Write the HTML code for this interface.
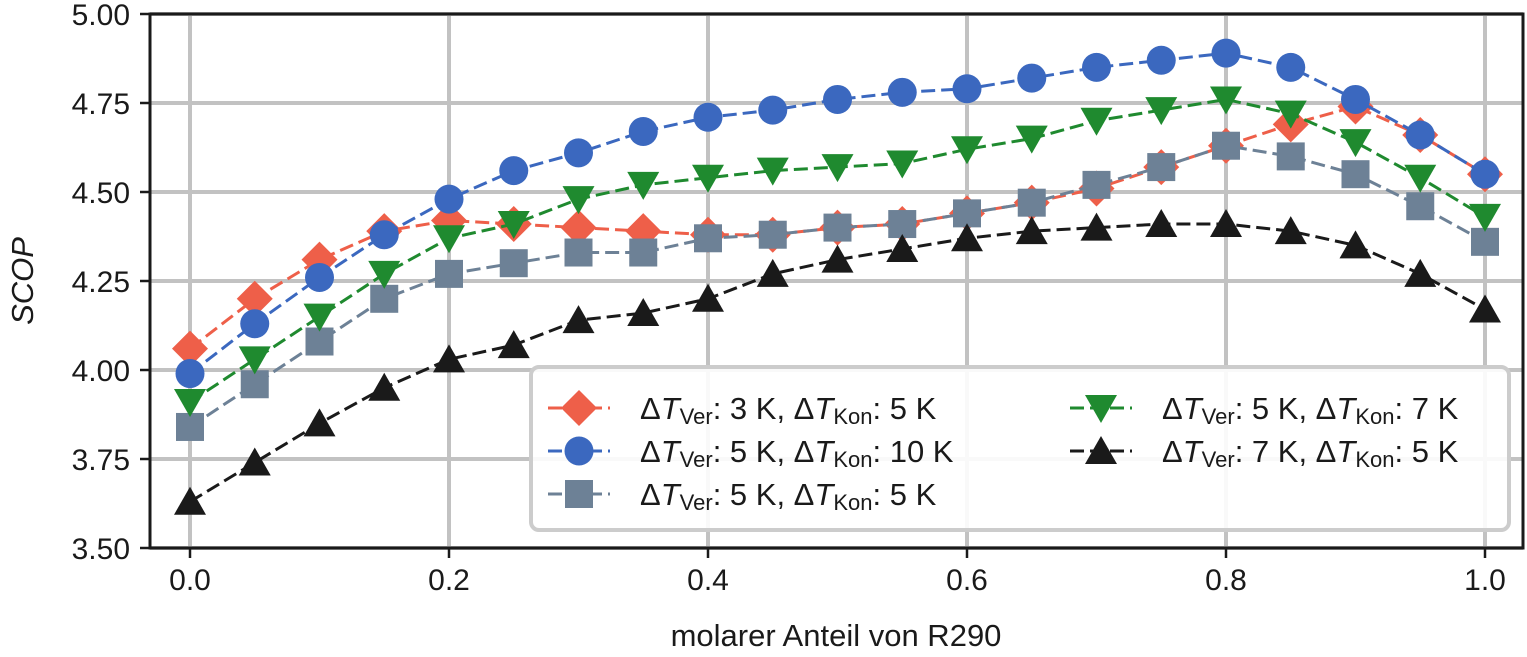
<!DOCTYPE html>
<html><head><meta charset="utf-8"><style>
body{margin:0;background:#fff;}
svg text{font-family:"Liberation Sans","DejaVu Sans",sans-serif;fill:#1a1a1a;}
</style></head><body>
<svg id="chart" width="1527" height="652" xmlns="http://www.w3.org/2000/svg">
<g id="grid"></g>
<g id="series"></g>
<rect x="150" y="14" width="1373" height="534" fill="none" stroke="#1a1a1a" stroke-width="3"/>
<g id="ticks"></g>
<text x="836" y="646" font-size="31" text-anchor="middle">molarer Anteil von R290</text>
<text transform="translate(33,281) rotate(-90)" font-size="31" font-style="italic" text-anchor="middle">SCOP</text>
<g id="legend"></g>
</svg>
<script>
const xValues=[0,0.05,0.1,0.15,0.2,0.25,0.3,0.35,0.4,0.45,0.5,0.55,0.6,0.65,0.7,0.75,0.8,0.85,0.9,0.95,1.0];
const redVals=[4.06,4.20,4.31,4.39,4.42,4.41,4.40,4.39,4.38,4.38,4.40,4.41,4.44,4.47,4.51,4.57,4.63,4.69,4.74,4.66,4.55];
const blueVals=[3.99,4.13,4.26,4.38,4.48,4.56,4.61,4.67,4.71,4.73,4.76,4.78,4.79,4.82,4.85,4.87,4.89,4.85,4.76,4.66,4.55];
const grayVals=[3.84,3.96,4.08,4.20,4.27,4.30,4.33,4.33,4.37,4.38,4.40,4.41,4.44,4.47,4.52,4.57,4.63,4.60,4.55,4.46,4.36];
const greenVals=[3.91,4.03,4.15,4.27,4.37,4.41,4.48,4.52,4.54,4.56,4.57,4.58,4.62,4.65,4.70,4.73,4.76,4.72,4.64,4.54,4.43];
const blackVals=[3.63,3.74,3.85,3.95,4.03,4.07,4.14,4.16,4.20,4.27,4.31,4.34,4.37,4.39,4.40,4.41,4.41,4.39,4.35,4.27,4.17];
const xTicks=[0,0.2,0.4,0.6,0.8,1.0];
const xTickLabels=["0.0","0.2","0.4","0.6","0.8","1.0"];
const yTicks=[3.5,3.75,4.0,4.25,4.5,4.75,5.0];
const yTickLabels=["3.50","3.75","4.00","4.25","4.50","4.75","5.00"];
const legendLabels=[["3 K","5 K"],["5 K","10 K"],["5 K","5 K"],["5 K","7 K"],["7 K","5 K"]];

const NS="http://www.w3.org/2000/svg";
const X=v=>190+v*1295, Y=v=>14+(5.0-v)*356;
function el(t,a,p){const e=document.createElementNS(NS,t);for(const k in a)e.setAttribute(k,a[k]);p.appendChild(e);return e;}
const grid=document.getElementById('grid'),ticks=document.getElementById('ticks');
xTicks.forEach((v,i)=>{
 const l=el('line',{x1:X(v),x2:X(v),y1:14,y2:548,stroke:'#c2c2c2','stroke-width':4},grid);
 
 const tk=el('line',{x1:X(v),x2:X(v),y1:548,y2:558,stroke:'#1a1a1a','stroke-width':2.5},ticks);
 
 const t=el('text',{x:X(v),y:590,'font-size':30,'text-anchor':'middle'},ticks);t.textContent=xTickLabels[i];
 
});
yTicks.forEach((v,i)=>{
 const l=el('line',{x1:150,x2:1523,y1:Y(v),y2:Y(v),stroke:'#c2c2c2','stroke-width':4},grid);
 
 const tk=el('line',{x1:140,x2:150,y1:Y(v),y2:Y(v),stroke:'#1a1a1a','stroke-width':2.5},ticks);
 
 const t=el('text',{x:130,y:Y(v)+11,'font-size':30,'text-anchor':'end'},ticks);t.textContent=yTickLabels[i];
 
});
function marker(type,cx,cy,color,p){
 let m;
 if(type==='diamond')m=el('polygon',{points:`${cx},${cy-18} ${cx+18},${cy} ${cx},${cy+18} ${cx-18},${cy}`},p);
 else if(type==='circle')m=el('circle',{cx,cy,r:14.5},p);
 else if(type==='square')m=el('rect',{x:cx-14,y:cy-14,width:28,height:28},p);
 else if(type==='down')m=el('polygon',{points:`${cx-16},${cy-13} ${cx+16},${cy-13} ${cx},${cy+15}`},p);
 else m=el('polygon',{points:`${cx-16},${cy+13} ${cx+16},${cy+13} ${cx},${cy-15}`},p);
 m.setAttribute('fill',color);
 return m;
}
const series=[
 {n:'red-diamond',vals:redVals,c:'#ee5f49',m:'diamond'},
 {n:'blue-circle',vals:blueVals,c:'#3b68bf',m:'circle'},
 {n:'gray-square',vals:grayVals,c:'#6d8196',m:'square'},
 {n:'green-down-triangle',vals:greenVals,c:'#1f8a2f',m:'down'},
 {n:'black-up-triangle',vals:blackVals,c:'#1a1a1a',m:'up'}];
const sg=document.getElementById('series');
series.forEach(s=>{
 const g=el('g',{},sg);
 const pl=el('polyline',{points:xValues.map((x,i)=>X(x)+','+Y(s.vals[i])).join(' '),fill:'none',stroke:s.c,'stroke-width':3,'stroke-dasharray':'14,6'},g);
 
 xValues.forEach((x,i)=>{const m=marker(s.m,X(x),Y(s.vals[i]),s.c,g);
  });
});
const lg=document.getElementById('legend');
const box=el('rect',{x:531,y:367,width:978,height:163,rx:8,fill:'#fff','fill-opacity':0.9,stroke:'#cccccc','stroke-width':4},lg);

const pos=[[548,408],[548,451],[548,494],[1070,408],[1070,451]];
series.forEach((s,i)=>{
 const [lx,ly]=pos[i];
 const g=el('g',{},lg);
 el('line',{x1:lx,x2:lx+62,y1:ly,y2:ly,stroke:s.c,'stroke-width':3,'stroke-dasharray':'14,6'},g);
 marker(s.m,lx+31,ly,s.c,g);
 const t=el('text',{x:lx+92,y:ly+11,'font-size':31},g);
 t.innerHTML=`Δ<tspan font-style="italic">T</tspan><tspan font-size="22" dy="5">Ver</tspan><tspan dy="-5">: ${legendLabels[i][0]}, Δ</tspan><tspan font-style="italic">T</tspan><tspan font-size="22" dy="5">Kon</tspan><tspan dy="-5">: ${legendLabels[i][1]}</tspan>`;
});
</script>
</body></html>
